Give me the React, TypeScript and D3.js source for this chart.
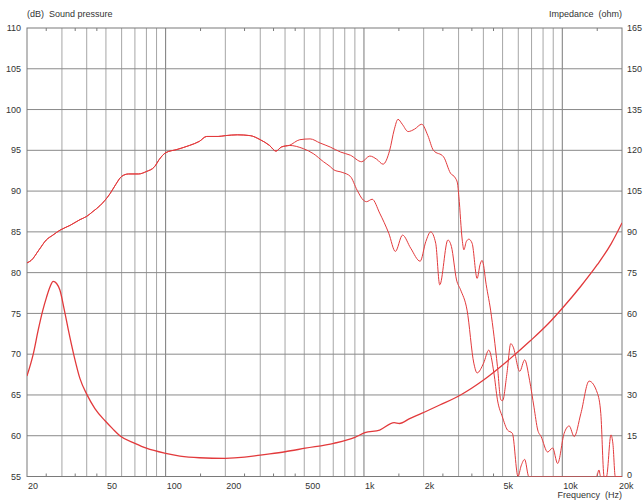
import React from "react";
import * as d3 from "d3";

// on-axis sound pressure (dB)
const onAxisFreq = [20, 21, 23, 25, 27, 29.3, 33, 37, 40, 43, 46.6, 52.5, 56, 60, 65, 73, 80, 88, 93, 100, 114, 132, 148, 161, 184, 200, 230, 267, 300, 334, 360, 383, 420, 475, 535, 600, 676, 760, 854, 974, 1070, 1160, 1248, 1348, 1420, 1485, 1560, 1670, 1800, 1955, 2100, 2240, 2520, 2730, 2890, 2960, 3010, 3130, 3190, 3280, 3380, 3510, 3720, 3850, 3940, 4010, 4100, 4350, 4710, 4900, 5000, 5250, 5500, 5650, 6100, 6460, 6840, 7200, 7520, 7820, 8440, 8940, 9470, 10220, 10830, 11480, 12400, 13650, 15040, 15640, 16250, 16700, 17590, 18000, 18500, 20000];
const onAxisDb = [81.2, 81.5, 82.8, 84.0, 84.6, 85.2, 85.8, 86.5, 86.9, 87.5, 88.2, 89.7, 90.8, 91.8, 92.1, 92.1, 92.4, 93.0, 93.9, 94.7, 95.1, 95.6, 96.1, 96.7, 96.7, 96.8, 96.9, 96.8, 96.3, 95.6, 94.9, 95.4, 95.6, 96.3, 96.4, 95.9, 95.4, 94.8, 94.4, 93.6, 94.3, 93.9, 93.3, 95.0, 97.5, 98.8, 98.2, 97.3, 97.6, 98.2, 96.8, 95.0, 94.2, 92.2, 91.6, 91.0, 89.3, 84.0, 82.8, 83.8, 84.1, 83.6, 79.3, 81.0, 81.5, 80.9, 79.1, 75.4, 68.5, 64.4, 64.3, 67.5, 71.3, 70.9, 67.9, 69.3, 66.8, 63.5, 60.7, 59.9, 58.0, 58.5, 56.6, 60.3, 61.2, 59.9, 62.7, 66.7, 65.2, 62.7, 55, 55, 60.1, 59, 55, 55];

// off-axis sound pressure (dB)
const offAxisFreq = [20, 21, 23, 25, 27, 29.3, 33, 37, 40, 43, 46.6, 52.5, 56, 60, 65, 73, 80, 88, 93, 100, 114, 132, 148, 161, 184, 200, 230, 267, 300, 334, 360, 383, 420, 495, 555, 625, 676, 705, 776, 854, 924, 992, 1030, 1100, 1200, 1335, 1440, 1565, 1720, 1920, 2050, 2170, 2300, 2410, 2650, 2760, 2930, 3070, 3310, 3580, 3720, 4010, 4260, 4520, 4710, 4990, 5290, 5600, 5980, 6200, 6460, 6780, 14900, 15300, 15600, 20000];
const offAxisDb = [81.2, 81.5, 82.8, 84.0, 84.6, 85.2, 85.8, 86.5, 86.9, 87.5, 88.2, 89.7, 90.8, 91.8, 92.1, 92.1, 92.4, 93.0, 93.9, 94.7, 95.1, 95.6, 96.1, 96.7, 96.7, 96.8, 96.9, 96.8, 96.3, 95.6, 94.9, 95.4, 95.6, 95.2, 94.6, 93.6, 93.0, 92.6, 92.3, 91.8, 90.1, 88.9, 88.7, 89.0, 87.3, 84.8, 82.6, 84.6, 83.0, 81.4, 83.8, 85.0, 83.6, 78.5, 84.0, 83.2, 79.1, 77.9, 75.4, 68.9, 67.7, 68.9, 70.5, 67.7, 64.4, 62.3, 60.7, 60.3, 55, 56.3, 57.1, 55, 55, 55.8, 55, 55];

// impedance (ohm)
const impFreq = [20, 21.5, 22.8, 24, 25.1, 26.2, 27.1, 28.2, 29.3, 30.8, 32.3, 34.5, 37, 40, 44, 49.5, 54, 59, 70, 80, 100, 118, 148, 200, 250, 300, 400, 506, 705, 900, 1010, 1200, 1420, 1510, 1700, 1950, 2410, 3070, 4010, 5290, 6920, 8440, 10030, 12400, 15040, 17590, 20000];
const impOhm = [37, 45, 54, 61, 66, 70, 71.8, 71, 68.6, 61.5, 54, 44.5, 36, 30.3, 25, 20.5, 17.6, 14.9, 12.2, 10.4, 8.5, 7.5, 6.9, 6.7, 7.1, 7.9, 9.1, 10.4, 12.2, 14.4, 16.1, 17.1, 19.8, 19.5, 21.3, 23.2, 26.3, 30, 35.5, 42.5, 50, 56, 62, 70, 78, 85.5, 93.3];

const dbTicks = [55, 60, 65, 70, 75, 80, 85, 90, 95, 100, 105, 110];
const ohmTicks = [0, 15, 30, 45, 60, 75, 90, 105, 120, 135, 150, 165];
const freqLabels = [20, 50, 100, 200, 500, 1000, 2000, 5000, 10000, 20000];
const freqLabelText = ["20", "50", "100", "200", "500", "1k", "2k", "5k", "10k", "20k"];
const gridFreqs = [30, 40, 50, 60, 70, 80, 90, 200, 300, 400, 500, 600, 700, 800, 900, 2000, 3000, 4000, 5000, 6000, 7000, 8000, 9000];
const decadeFreqs = [100, 1000, 10000];
const minorTickFreqs = [25, 35, 45, 150, 250, 350, 450, 1500, 2500, 3500, 4500, 15000];

const W = 643;
const H = 500;
const m = { left: 27, right: 21, top: 28, bottom: 23.5 };
const font = "'Liberation Sans', Arial, sans-serif";
const red = "#e23a3c";

export default function App() {
  const x = d3.scaleLog().domain([20, 20000]).range([m.left, W - m.right]);
  const y = d3.scaleLinear().domain([55, 110]).range([H - m.bottom, m.top]);
  const yR = d3.scaleLinear().domain([0, 165]).range([H - m.bottom, m.top]);

  const pathFrom = (fs: number[], vs: number[], sc: d3.ScaleLinear<number, number>) =>
    d3
      .line<[number, number]>()
      .x((d) => x(d[0]))
      .y((d) => sc(d[1]))
      .curve(d3.curveMonotoneX)(fs.map((f, i) => [f, vs[i]] as [number, number])) || "";

  const x0 = m.left;
  const x1 = W - m.right;
  const y0 = m.top;
  const y1 = H - m.bottom;

  return (
    <svg
      width={W}
      height={H}
      style={{ position: "absolute", left: 0, top: 0, background: "#fff" }}
      fontFamily={font}
      fontSize={9}
    >
      <defs>
        <clipPath id="plot">
          <rect x={x0} y={y0 - 1} width={x1 - x0} height={y1 - y0 + 1} />
        </clipPath>
      </defs>

      {/* vertical grid */}
      {gridFreqs.map((f) => (
        <line key={"v" + f} x1={x(f)} x2={x(f)} y1={y0} y2={y1} stroke="#a6a6a6" strokeWidth={1} />
      ))}
      {decadeFreqs.map((f) => (
        <line key={"d" + f} x1={x(f)} x2={x(f)} y1={y0} y2={y1} stroke="#7a7a7a" strokeWidth={1} />
      ))}
      {/* horizontal grid */}
      {dbTicks.slice(1, -1).map((v) => (
        <line key={"h" + v} x1={x0} x2={x1} y1={y(v)} y2={y(v)} stroke="#8a8a8a" strokeWidth={1} />
      ))}
      {/* minor ticks */}
      {minorTickFreqs.map((f) => (
        <g key={"t" + f}>
          <line x1={x(f)} x2={x(f)} y1={y0} y2={y0 + 3} stroke="#7a7a7a" />
          <line x1={x(f)} x2={x(f)} y1={y1} y2={y1 - 3} stroke="#7a7a7a" />
        </g>
      ))}
      <rect x={x0} y={y0} width={x1 - x0} height={y1 - y0} fill="none" stroke="#7a7a7a" strokeWidth={1} />

      {/* curves */}
      <g clipPath="url(#plot)" fill="none" stroke={red} strokeWidth={1}>
        <path d={pathFrom(offAxisFreq, offAxisDb, y)} />
        <path d={pathFrom(onAxisFreq, onAxisDb, y)} />
        <path d={pathFrom(impFreq, impOhm, yR)} strokeWidth={1.3} />
      </g>

      {/* left axis labels */}
      {dbTicks.map((v) => (
        <text key={"l" + v} x={21} y={y(v)} dy="0.35em" textAnchor="end" fill="#333">
          {v}
        </text>
      ))}
      {/* right axis labels */}
      {ohmTicks.map((v) => (
        <text key={"r" + v} x={627} y={yR(v) - (v === 0 ? 1.5 : 0)} dy="0.35em" textAnchor="start" fill="#333">
          {v}
        </text>
      ))}
      {/* bottom labels */}
      {freqLabels.map((f, i) => (
        <text key={"b" + f} x={f === 20000 ? x(f) - 3 : x(f) + 1} y={489} textAnchor="start" fill="#333">
          {freqLabelText[i]}
        </text>
      ))}

      <text x={27} y={17} fill="#333" style={{ whiteSpace: "pre" }}>
        {"(dB)  Sound pressure"}
      </text>
      <text x={622} y={17} textAnchor="end" fill="#333" style={{ whiteSpace: "pre" }}>
        {"Impedance  (ohm)"}
      </text>
      <text x={622} y={497.5} textAnchor="end" fill="#333" style={{ whiteSpace: "pre" }}>
        {"Frequency  (Hz)"}
      </text>
    </svg>
  );
}
